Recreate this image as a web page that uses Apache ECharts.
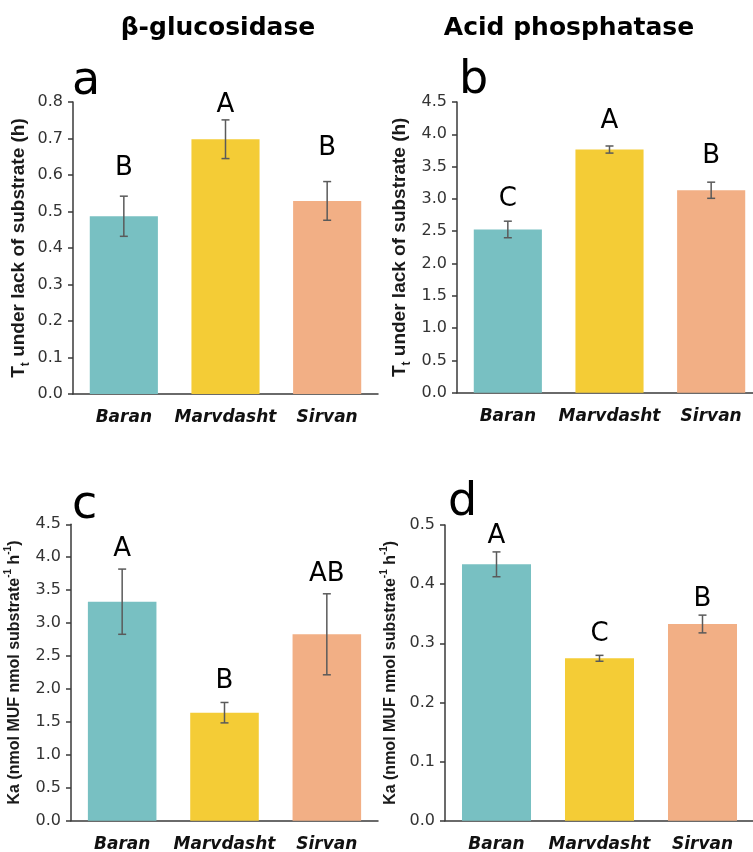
<!DOCTYPE html>
<html>
<head>
<meta charset="utf-8">
<script src="https://cdn.jsdelivr.net/npm/echarts@6/dist/echarts.min.js"></script>
<style>
  html, body { margin: 0; padding: 0; background: #ffffff; }
  #chart { width: 753px; height: 852px; }
</style>
</head>
<body>
<div id="chart"></div>
<script>
// Cultivars shared by every panel
const categories = ['Baran', 'Marvdasht', 'Sirvan'];

// Tt under lack of substrate (h), beta-glucosidase
const glucTt = [0.487, 0.698, 0.529];
const glucTtErr = [0.055, 0.053, 0.053];
const glucTtLetters = ['B', 'A', 'B'];

// Tt under lack of substrate (h), acid phosphatase
const phosTt = [2.527, 3.764, 3.134];
const phosTtErr = [0.128, 0.055, 0.125];
const phosTtLetters = ['C', 'A', 'B'];

// Ka (nmol MUF nmol substrate-1 h-1), beta-glucosidase
const glucKa = [3.325, 1.64, 2.83];
const glucKaErr = [0.495, 0.155, 0.615];
const glucKaLetters = ['A', 'B', 'AB'];

// Ka (nmol MUF nmol substrate-1 h-1), acid phosphatase
const phosKa = [0.4335, 0.2746, 0.3326];
const phosKaErr = [0.021, 0.005, 0.015];
const phosKaLetters = ['A', 'C', 'B'];

// Axis ranges
const glucTtTicks = { max: 0.8, interval: 0.1 };
const phosTtTicks = { max: 4.5, interval: 0.5 };
const glucKaTicks = { max: 4.5, interval: 0.5 };
const phosKaTicks = { max: 0.5, interval: 0.1 };

const barColors = ['#78C0C2', '#F4CC36', '#F2AF85'];
const axisColor = '#3a3a3a';
const errColor = '#5a5a5a';
const wideFont = '"DejaVu Sans", sans-serif';
const arialFont = '"Liberation Sans", Arial, sans-serif';

const ttName = '{m|T}{s|t}{m| under lack of substrate (h)}';
const kaName = '{m|Ka (nmol MUF nmol substrate}{p|-1}{m| h}{p|-1}{m|)}';

const ttRich = {
  m: { fontFamily: arialFont, fontWeight: 'bold', fontSize: 19, color: '#1a1a1a', lineHeight: 26, verticalAlign: 'middle' },
  s: { fontFamily: arialFont, fontWeight: 'bold', fontSize: 12, color: '#1a1a1a', lineHeight: 26, verticalAlign: 'bottom' }
};
const kaRich = {
  m: { fontFamily: arialFont, fontWeight: 'bold', fontSize: 16, color: '#1a1a1a', lineHeight: 24, verticalAlign: 'middle' },
  p: { fontFamily: arialFont, fontWeight: 'bold', fontSize: 10, color: '#1a1a1a', lineHeight: 24, verticalAlign: 'top' }
};

const panels = [
  { values: glucTt, errors: glucTtErr, letters: glucTtLetters, ticks: glucTtTicks,
    grid: { left: 73, top: 102, width: 305, height: 292 }, name: ttName, rich: ttRich, nameGap: 41,
    letterGap: [19, 6, 24] },
  { values: phosTt, errors: phosTtErr, letters: phosTtLetters, ticks: phosTtTicks,
    grid: { left: 457, top: 102, width: 305, height: 290.7 }, name: ttName, rich: ttRich, nameGap: 44,
    letterGap: [13, 16, 17] },
  { values: glucKa, errors: glucKaErr, letters: glucKaLetters, ticks: glucKaTicks,
    grid: { left: 71, top: 524.3, width: 307, height: 296.4 }, name: kaName, rich: kaRich, nameGap: 44,
    letterGap: [11, 12, 11] },
  { values: phosKa, errors: phosKaErr, letters: phosKaLetters, ticks: phosKaTicks,
    grid: { left: 445, top: 525, width: 309, height: 295.7 }, name: kaName, rich: kaRich, nameGap: 42,
    letterGap: [7, 12, 7] }
];

const option = {
  backgroundColor: '#ffffff',
  animation: false,
  grid: [], xAxis: [], yAxis: [], series: [],
  graphic: [
    { type: 'text', x: 218, y: 28, style: { text: 'β-glucosidase', font: 'bold 25px "DejaVu Sans", sans-serif', fill: '#000', align: 'center', verticalAlign: 'middle', textAlign: 'center', textVerticalAlign: 'middle' } },
    { type: 'text', x: 569, y: 28, style: { text: 'Acid phosphatase', font: 'bold 25px "DejaVu Sans", sans-serif', fill: '#000', align: 'center', verticalAlign: 'middle', textAlign: 'center', textVerticalAlign: 'middle' } },
    { type: 'text', x: 72, y: 82, style: { text: 'a', font: '46px "DejaVu Sans", sans-serif', fill: '#000', align: 'left', verticalAlign: 'middle', textAlign: 'left', textVerticalAlign: 'middle' } },
    { type: 'text', x: 459, y: 81, style: { text: 'b', font: '46px "DejaVu Sans", sans-serif', fill: '#000', align: 'left', verticalAlign: 'middle', textAlign: 'left', textVerticalAlign: 'middle' } },
    { type: 'text', x: 72, y: 506, style: { text: 'c', font: '46px "DejaVu Sans", sans-serif', fill: '#000', align: 'left', verticalAlign: 'middle', textAlign: 'left', textVerticalAlign: 'middle' } },
    { type: 'text', x: 448, y: 503, style: { text: 'd', font: '46px "DejaVu Sans", sans-serif', fill: '#000', align: 'left', verticalAlign: 'middle', textAlign: 'left', textVerticalAlign: 'middle' } }
  ]
};

panels.forEach((p, k) => {
  option.grid.push(Object.assign({ containLabel: false, outerBoundsMode: 'none' }, p.grid));
  option.xAxis.push({
    type: 'category', gridIndex: k, data: categories,
    axisLine: { lineStyle: { color: axisColor, width: 1.5 } },
    axisTick: { show: false },
    axisLabel: { interval: 0, hideOverlap: false, margin: 15, color: '#111', fontFamily: wideFont, fontWeight: 'bold', fontStyle: 'italic', fontSize: 17 },
    splitLine: { show: false }
  });
  option.yAxis.push({
    type: 'value', gridIndex: k, min: 0, max: p.ticks.max, interval: p.ticks.interval,
    name: p.name, nameLocation: 'middle', nameRotate: 90, nameGap: p.nameGap, nameMoveOverlap: false,
    nameTextStyle: { rich: p.rich },
    axisLine: { show: true, lineStyle: { color: axisColor, width: 1.5 } },
    axisTick: { show: true, length: 5, lineStyle: { color: axisColor, width: 1.5 } },
    axisLabel: { margin: 10, color: '#333', fontFamily: wideFont, fontSize: 16,
      formatter: v => v.toFixed(1) },
    splitLine: { show: false }
  });
  option.series.push({
    type: 'bar', xAxisIndex: k, yAxisIndex: k, barWidth: '67%',
    data: p.values.map((v, i) => ({ value: v, itemStyle: { color: barColors[i] } })),
    silent: true
  });
  option.series.push({
    type: 'custom', xAxisIndex: k, yAxisIndex: k, z: 5, silent: true,
    encode: { x: 0, y: 1 },
    data: p.values.map((v, i) => [i, v, p.errors[i]]),
    renderItem: (params, api) => {
      const i = api.value(0), m = api.value(1), e = api.value(2);
      const hi = api.coord([i, m + e]);
      const lo = api.coord([i, m - e]);
      const cx = hi[0], cap = 4;
      const stroke = { stroke: errColor, lineWidth: 1.5 };
      return {
        type: 'group',
        children: [
          { type: 'line', shape: { x1: cx, y1: hi[1], x2: cx, y2: lo[1] }, style: stroke },
          { type: 'line', shape: { x1: cx - cap, y1: hi[1], x2: cx + cap, y2: hi[1] }, style: stroke },
          { type: 'line', shape: { x1: cx - cap, y1: lo[1], x2: cx + cap, y2: lo[1] }, style: stroke },
          { type: 'text', x: cx, y: hi[1] - p.letterGap[params.dataIndex] + 4,
            style: { text: p.letters[params.dataIndex], font: '26px "DejaVu Sans", sans-serif', fill: '#000',
              align: 'center', verticalAlign: 'bottom', textAlign: 'center', textVerticalAlign: 'bottom' } }
        ]
      };
    }
  });
});

const chart = echarts.init(document.getElementById('chart'), null, { renderer: 'canvas', width: 753, height: 852 });
chart.setOption(option);
</script>
</body>
</html>
